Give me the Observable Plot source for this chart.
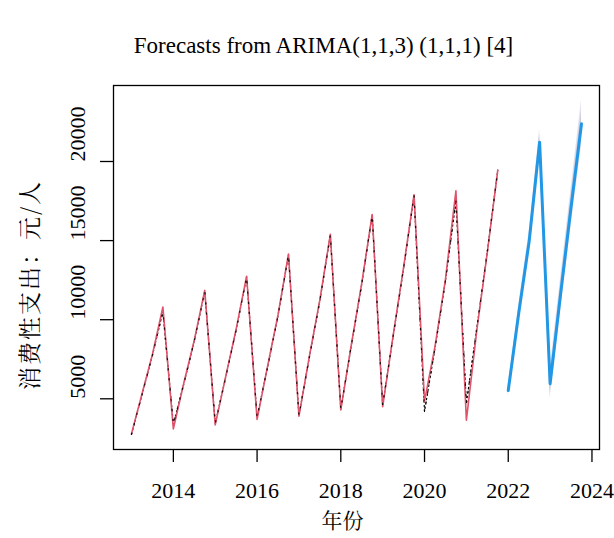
<!DOCTYPE html>
<html>
<head>
<meta charset="utf-8">
<script src="https://cdn.jsdelivr.net/npm/d3@7"></script>
<script src="https://cdn.jsdelivr.net/npm/@observablehq/plot@0.6"></script>
<style>
  html, body { margin: 0; padding: 0; background: #fff; }
  #chart svg { display: block; }
</style>
</head>
<body>
<div id="chart"></div>
<script>
// Quarterly series, 2013 Q1 .. 2021 Q4 (frequency 4)
const obsQuarters = [
  "2013Q1","2013Q2","2013Q3","2013Q4","2014Q1","2014Q2","2014Q3","2014Q4",
  "2015Q1","2015Q2","2015Q3","2015Q4","2016Q1","2016Q2","2016Q3","2016Q4",
  "2017Q1","2017Q2","2017Q3","2017Q4","2018Q1","2018Q2","2018Q3","2018Q4",
  "2019Q1","2019Q2","2019Q3","2019Q4","2020Q1","2020Q2","2020Q3","2020Q4",
  "2021Q1","2021Q2","2021Q3","2021Q4"
];
// observed values (black)
const observed = [
  2750, 5250, 7750, 10500,  3400, 5950, 8650, 11800,
  3450, 6350, 9350, 12700,  3850, 7000, 10250, 14100,
  3950, 7650, 11200, 15350, 4350, 8350, 12250, 16600,
  4600, 8950, 13250, 17850, 4200, 8200, 12450, 17500,
  4700, 9500, 14300, 19450
];
// fitted values (red)
const fitted = [
  2800, 5300, 7800, 10800,  3100, 6000, 8700, 11850,
  3350, 6400, 9400, 12750,  3700, 7050, 10300, 14150,
  3900, 7700, 11250, 15400, 4300, 8400, 12300, 16650,
  4500, 9000, 13300, 17900, 4850, 8300, 12550, 18150,
  3650, 9350, 14250, 19450
];
// forecasts 2022 Q1 .. 2023 Q4
const fcQuarters = ["2022Q1","2022Q2","2022Q3","2022Q4","2023Q1","2023Q2","2023Q3","2023Q4"];
const fcMean  = [5525, 10400, 14950, 21220, 5950, 11600, 17100, 22380];
const fcLo80  = [5300, 10080, 14550, 20720, 5380, 10950, 16350, 21550];
const fcHi80  = [5750, 10720, 15350, 21720, 6520, 12250, 17850, 23210];
const fcLo95  = [5150, 9850, 14300, 20400, 5000, 10550, 15900, 20950];
const fcHi95  = [5900, 10950, 15600, 22050, 6900, 12650, 18300, 23900];

const xTicks = [2014, 2016, 2018, 2020, 2022, 2024];
const yTicks = [5000, 10000, 15000, 20000];

const title = "Forecasts from ARIMA(1,1,3) (1,1,1) [4]";
const xLabel = "年份";
const yLabel = "消费性支出：元/人";

const qTime = q => +q.slice(0, 4) + (+q.slice(5) - 1) / 4;

const obs = obsQuarters.map((q, i) => ({t: qTime(q), v: observed[i], f: fitted[i]}));
const fc = fcQuarters.map((q, i) => ({
  t: qTime(q), mean: fcMean[i], lo80: fcLo80[i], hi80: fcHi80[i], lo95: fcLo95[i], hi95: fcHi95[i]
}));

const serif = "'Liberation Serif', 'Times New Roman', 'Noto Serif CJK SC', 'Noto Sans CJK SC', serif";
const cjk = "'Noto Serif CJK SC', 'Noto Sans CJK SC', 'Liberation Serif', serif";

const chart = Plot.plot({
  width: 614,
  height: 538,
  marginLeft: 113,
  marginRight: 15,
  marginTop: 85,
  marginBottom: 89,
  x: {domain: [2012.57, 2024.18]},
  y: {domain: [1795, 24804]},
  style: {fontFamily: serif, fontSize: "22px", background: "#fff", color: "#000"},
  marks: [
    Plot.areaY(fc, {x: "t", y1: "lo95", y2: "hi95", fill: "#e2e2ec"}),
    Plot.areaY(fc, {x: "t", y1: "lo80", y2: "hi80", fill: "#c8cadc"}),
    Plot.lineY(obs, {x: "t", y: "v", stroke: "#000", strokeWidth: 1.2, strokeDasharray: "1.5,3"}),
    Plot.lineY(obs, {x: "t", y: "f", stroke: "#DF536B", strokeWidth: 1.6}),
    Plot.lineY(obs, {x: "t", y: "v", stroke: "#000", strokeWidth: 1.3, strokeDasharray: "1.2,9", strokeOpacity: 0.85}),
    Plot.lineY(fc, {x: "t", y: "mean", stroke: "#2297E6", strokeWidth: 3}),
    Plot.frame({stroke: "#000", strokeWidth: 1.3}),
    Plot.axisX({ticks: xTicks, tickSize: 13, tickFormat: () => "", label: null, strokeWidth: 1.3}),
    Plot.axisY({ticks: yTicks, tickSize: 13, tickFormat: () => "", label: null, strokeWidth: 1.3}),
    Plot.text(xTicks, {x: d => d, frameAnchor: "bottom", dy: 48, lineAnchor: "bottom", text: d => String(d), fontSize: 22, fill: "#000"}),
    Plot.text(yTicks, {y: d => d, frameAnchor: "left", dx: -36, rotate: -90, text: d => String(d), fontSize: 22, fill: "#000"}),
    Plot.text([title], {frameAnchor: "top", dx: -33, dy: -33, lineAnchor: "bottom", text: d => d, fontSize: 23, fill: "#000"}),
    Plot.text([xLabel], {frameAnchor: "bottom", dx: -14, dy: 78, text: d => d, fontSize: 21, fontFamily: cjk, fill: "#000"})
  ]
});

// rotated y-axis title beside the frame
d3.select(chart).append("text")
  .attr("transform", "translate(28,285) rotate(-90)")
  .attr("text-anchor", "middle")
  .attr("dominant-baseline", "central")
  .attr("font-family", cjk)
  .attr("font-size", 23)
  .attr("letter-spacing", 2)
  .attr("fill", "#000")
  .text(yLabel);
document.getElementById("chart").appendChild(chart);
</script>
</body>
</html>
